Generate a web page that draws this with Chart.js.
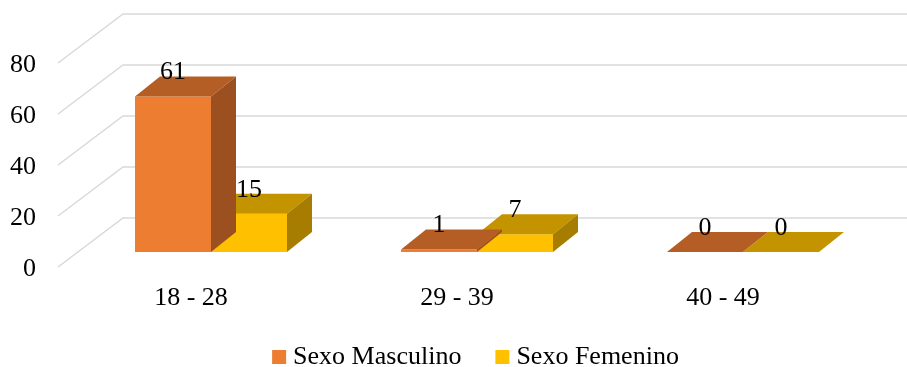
<!DOCTYPE html>
<html>
<head>
<meta charset="utf-8">
<script src="https://cdn.jsdelivr.net/npm/chart.js@4"></script>
<style>
  html, body { margin: 0; padding: 0; background: #fff; }
  canvas { display: block; }
</style>
</head>
<body>
<canvas id="c" width="907" height="367"></canvas>
<script>
// Age groups and counts per sex
const categories = ['18 - 28', '29 - 39', '40 - 49'];
const seriesNames = ['Sexo Masculino', 'Sexo Femenino'];
const masculino = [61, 1, 0];
const femenino = [15, 7, 0];
const yTicks = [0, 20, 40, 60, 80];

const FONT = '"Liberation Serif", "Times New Roman", serif';
const TEXT_SIZE = 26;

// Face shades for each series: front, top (lit from above), right side (shadow)
const faces = [
  { front: '#ED7D31', top: '#B45E25', side: '#9C501F' },
  { front: '#FFC000', top: '#C49400', side: '#A67D00' }
];

// Oblique projection offsets (px)
const SHIFT = { x: 20, y: -15 };  // bars stand this far behind the front edge of the floor
const DEPTH = { x: 25, y: -20 };  // depth of each bar
const WALL  = { x: 65, y: -49 };  // back wall

const LEGEND = { cx: 475.5, baseline: 364, box: 14, gap: 7, space: 34 };

function face(ctx, pts, color) {
  ctx.fillStyle = color;
  ctx.beginPath();
  ctx.moveTo(pts[0][0], pts[0][1]);
  for (let i = 1; i < pts.length; i++) ctx.lineTo(pts[i][0], pts[i][1]);
  ctx.closePath();
  ctx.fill();
}

const bars3d = {
  id: 'bars3d',
  beforeDatasetsDraw(chart) {
    const { ctx, chartArea: a, scales: { y } } = chart;
    ctx.save();
    ctx.strokeStyle = '#d9d9d9';
    ctx.lineWidth = 1.5;
    y.ticks.forEach(t => {
      const py = y.getPixelForValue(t.value);
      ctx.beginPath();
      ctx.moveTo(a.left, py);
      ctx.lineTo(a.left + WALL.x, py + WALL.y);
      ctx.lineTo(chart.width, py + WALL.y);
      ctx.stroke();
    });
    ctx.restore();
  },
  beforeDatasetDraw(chart) {
    chart.ctx.save();
    chart.ctx.translate(SHIFT.x, SHIFT.y);
  },
  afterDatasetDraw(chart, args) {
    const ctx = chart.ctx;
    const f = faces[args.index];
    args.meta.data.forEach(bar => {
      const { x, y, base, width } = bar.getProps(['x', 'y', 'base', 'width'], true);
      const l = x - width / 2, r = x + width / 2;
      face(ctx, [[l, y], [r, y], [r + DEPTH.x, y + DEPTH.y], [l + DEPTH.x, y + DEPTH.y]], f.top);
      if (base - y > 0.5) {
        face(ctx, [[r, y], [r, base], [r + DEPTH.x, base + DEPTH.y], [r + DEPTH.x, y + DEPTH.y]], f.side);
      }
    });
    ctx.restore();
  },
  afterDatasetsDraw(chart) {
    const ctx = chart.ctx;
    ctx.save();
    ctx.translate(SHIFT.x, SHIFT.y);
    ctx.font = TEXT_SIZE + 'px ' + FONT;
    ctx.fillStyle = '#000';
    ctx.textAlign = 'center';
    ctx.textBaseline = 'alphabetic';
    chart.data.datasets.forEach((ds, i) => {
      chart.getDatasetMeta(i).data.forEach((bar, j) => {
        const { x, y } = bar.getProps(['x', 'y'], true);
        ctx.fillText(String(ds.data[j]), x, y + DEPTH.y + 3);
      });
    });
    ctx.restore();
  },
  afterDraw(chart) {
    const ctx = chart.ctx;
    ctx.save();
    ctx.font = TEXT_SIZE + 'px ' + FONT;
    ctx.textBaseline = 'alphabetic';
    ctx.textAlign = 'left';
    const items = chart.data.datasets.map(ds => ({
      label: ds.label, color: ds.backgroundColor, w: ctx.measureText(ds.label).width
    }));
    const total = items.reduce((s, it) => s + LEGEND.box + LEGEND.gap + it.w, 0) + LEGEND.space * (items.length - 1);
    let x = LEGEND.cx - total / 2;
    items.forEach(it => {
      ctx.fillStyle = it.color;
      ctx.fillRect(x, LEGEND.baseline - LEGEND.box, LEGEND.box, LEGEND.box);
      ctx.fillStyle = '#000';
      ctx.fillText(it.label, x + LEGEND.box + LEGEND.gap, LEGEND.baseline);
      x += LEGEND.box + LEGEND.gap + it.w + LEGEND.space;
    });
    ctx.restore();
  }
};

new Chart(document.getElementById('c'), {
  type: 'bar',
  data: {
    labels: categories,
    datasets: [
      { label: seriesNames[0], data: masculino, backgroundColor: faces[0].front },
      { label: seriesNames[1], data: femenino, backgroundColor: faces[1].front }
    ]
  },
  options: {
    responsive: false,
    animation: false,
    layout: { padding: { top: 63, left: 0, right: 51, bottom: 50 } },
    datasets: { bar: { barPercentage: 1, categoryPercentage: 0.5714, borderWidth: 0 } },
    scales: {
      x: {
        grid: { display: false, drawTicks: false },
        border: { display: false },
        ticks: { font: { family: FONT, size: TEXT_SIZE }, color: '#000', padding: 16 },
        afterFit(s) { s.height = 50; }
      },
      y: {
        min: 0,
        max: 80,
        afterBuildTicks(s) { s.ticks = yTicks.map(v => ({ value: v })); },
        grid: { display: false, drawTicks: false },
        border: { display: false },
        ticks: { font: { family: FONT, size: TEXT_SIZE }, color: '#000', padding: 22, labelOffset: 2 },
        afterFit(s) { s.width = 58; }
      }
    },
    plugins: { legend: { display: false }, tooltip: { enabled: false } }
  },
  plugins: [bars3d]
});
</script>
</body>
</html>
